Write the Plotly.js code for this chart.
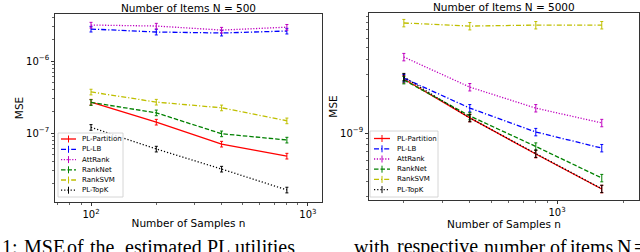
<!DOCTYPE html>
<html>
<head>
<meta charset="utf-8">
<script src="https://cdn.plot.ly/plotly-3.0.1.min.js"></script>
<style>html,body{margin:0;padding:0;background:#fff;overflow:hidden}</style>
</head>
<body>
<div id="chart" style="width:640px;height:252px"></div>
<script>
// ---------- data ----------
const methods = ['PL-Partition', 'PL-LB', 'AttRank', 'RankNet', 'RankSVM', 'PL-TopK'];
const samplesN500 = [100, 200, 400, 800];
const samplesN5000 = [200, 400, 800, 1600];

const plPartition500 = [2.69e-7, 1.42e-7, 7.03e-8, 4.79e-8];
const plLB500        = [2.78e-6, 2.53e-6, 2.45e-6, 2.61e-6];
const attRank500     = [3.16e-6, 3.06e-6, 2.69e-6, 2.95e-6];
const rankNet500     = [2.66e-7, 1.91e-7, 9.77e-8, 8.0e-8];
const rankSVM500     = [3.72e-7, 2.69e-7, 2.24e-7, 1.48e-7];
const plTopK500      = [1.2e-7, 6.0e-8, 3.16e-8, 1.62e-8];

const plPartition5000 = [2.77e-9, 1.33e-9, 6.73e-10, 3.48e-10];
const plLB5000        = [2.82e-9, 1.60e-9, 1.02e-9, 7.53e-10];
const attRank5000     = [4.2e-9, 2.38e-9, 1.6e-9, 1.21e-9];
const rankNet5000     = [2.72e-9, 1.38e-9, 7.76e-10, 4.28e-10];
const rankSVM5000     = [7.98e-9, 7.53e-9, 7.67e-9, 7.67e-9];
const plTopK5000      = [2.88e-9, 1.33e-9, 6.79e-10, 3.49e-10];

// ---------- styles ----------
const W = 640, H = 252;
const px = x => x / W;
const py = y => 1 - y / H;
const styles = [
  {color: '#ff0000', dash: 'solid'},
  {color: '#0000ff', dash: '5px,2px,1.2px,2px'},
  {color: '#bf00bf', dash: '1.2px,1.6px'},
  {color: '#008000', dash: '4.5px,2px'},
  {color: '#bfbf00', dash: '5px,2px,1.2px,2px'},
  {color: '#000000', dash: '1.2px,2px'}
];
const left = [plPartition500, plLB500, attRank500, rankNet500, rankSVM500, plTopK500];
const right = [plPartition5000, plLB5000, attRank5000, rankNet5000, rankSVM5000, plTopK5000];

const traces = [];
function addTraces(xs, series, xa, ya, errPct) {
  series.forEach((ys, i) => {
    traces.push({
      type: 'scatter', mode: 'lines', x: xs, y: ys, name: methods[i],
      xaxis: xa, yaxis: ya, showlegend: false,
      line: {color: styles[i].color, dash: styles[i].dash, width: 1.3},
      error_y: {type: 'percent', value: errPct, color: styles[i].color, thickness: 1, width: 1.5}
    });
  });
}
addTraces(samplesN500, left, 'x', 'y', 9);
addTraces(samplesN5000, right, 'x2', 'y2', 7);

// ---------- manual legends ----------
const shapes = [];
const annotations = [];
function legend(box, lineX0, lineX1, textX, rowY) {
  shapes.push({type: 'rect', xref: 'paper', yref: 'paper',
    x0: px(box[0]), x1: px(box[1]), y0: py(box[3]), y1: py(box[2]),
    line: {color: '#cccccc', width: 0.8}, fillcolor: 'rgba(255,255,255,0.85)'});
  methods.forEach((m, i) => {
    const y = rowY[i];
    shapes.push({type: 'line', xref: 'paper', yref: 'paper',
      x0: px(lineX0), x1: px(lineX1), y0: py(y), y1: py(y),
      line: {color: styles[i].color, width: 1.3, dash: styles[i].dash}});
    const cx = (lineX0 + lineX1) / 2;
    shapes.push({type: 'line', xref: 'paper', yref: 'paper',
      x0: px(cx), x1: px(cx), y0: py(y - 3.5), y1: py(y + 3.5),
      line: {color: styles[i].color, width: 1}});
    annotations.push({xref: 'paper', yref: 'paper', x: px(textX), y: py(y),
      xanchor: 'left', yanchor: 'middle', showarrow: false, text: m,
      font: {family: 'DejaVu Sans', size: 7, color: '#000'}});
  });
}
legend([58, 123, 133, 197], 61, 76, 80, [139, 149.3, 159.6, 169.8, 180, 190.2]);
legend([370, 438, 131, 197], 374, 390, 395, [138.5, 148.8, 159, 169.2, 179.4, 189.6]);

// subplot titles
annotations.push({xref: 'paper', yref: 'paper', x: px(188.5), y: py(7.5), xanchor: 'center', yanchor: 'middle',
  showarrow: false, text: 'Number of Items N = 500', font: {family: 'DejaVu Sans', size: 10.5, color: '#000'}});
annotations.push({xref: 'paper', yref: 'paper', x: px(504), y: py(7), xanchor: 'center', yanchor: 'middle',
  showarrow: false, text: 'Number of Items N = 5000', font: {family: 'DejaVu Sans', size: 10.5, color: '#000'}});

// caption line (cut off at the bottom of the picture)
const captionWords = [['1:', 0], ['MSE', 22], ['of', 65], ['the', 88], ['estimated', 123], ['PL', 205], ['utilities', 233],
  ['with', 352], ['respective', 395], ['number', 482], ['of', 548], ['items', 568], ['N', 615], ['= 1', 632]];
captionWords.forEach(([w, x]) => {
  annotations.push({xref: 'paper', yref: 'paper', x: px(x), y: py(246.5), xanchor: 'left', yanchor: 'middle',
    showarrow: false, text: w, font: {family: 'Liberation Serif', size: 20, color: '#000'}});
});

const axisCommon = {
  type: 'log', showgrid: false, zeroline: false, showline: true, linecolor: '#000', linewidth: 0.8,
  mirror: true, ticks: 'outside', ticklen: 3.5, tickwidth: 0.8, tickcolor: '#000',
  exponentformat: 'power', dtick: 1,
  tickfont: {family: 'DejaVu Sans', size: 8, color: '#000'},
  minor: {ticks: 'outside', ticklen: 2, tickwidth: 0.6, tickcolor: '#000', dtick: 'D1', showgrid: false},
  automargin: false
};
const xTitle = {text: 'Number of Samples n', font: {family: 'DejaVu Sans', size: 10.5, color: '#000'}, standoff: 0};
const yTitle = {text: 'MSE', font: {family: 'DejaVu Sans', size: 10.5, color: '#000'}, standoff: 0};

const layout = {
  width: W, height: H, margin: {l: 0, r: 0, t: 0, b: 0},
  paper_bgcolor: '#fff', plot_bgcolor: '#fff', showlegend: false,
  font: {family: 'DejaVu Sans', color: '#000'},
  xaxis: Object.assign({}, axisCommon, {domain: [px(55), px(322)], range: [1.834, 3.065], anchor: 'y', title: xTitle}),
  yaxis: Object.assign({}, axisCommon, {domain: [py(202), py(14)], range: [-7.958, -5.347], anchor: 'x', title: yTitle}),
  xaxis2: Object.assign({}, axisCommon, {domain: [px(369), px(639)], range: [2.142, 3.374], anchor: 'y2', title: xTitle}),
  yaxis2: Object.assign({}, axisCommon, {domain: [py(200), py(13)], range: [-9.549, -8.016], anchor: 'x2', title: yTitle}),
  shapes: shapes,
  annotations: annotations
};

Plotly.newPlot('chart', traces, layout, {displayModeBar: false, staticPlot: true});
</script>
</body>
</html>
